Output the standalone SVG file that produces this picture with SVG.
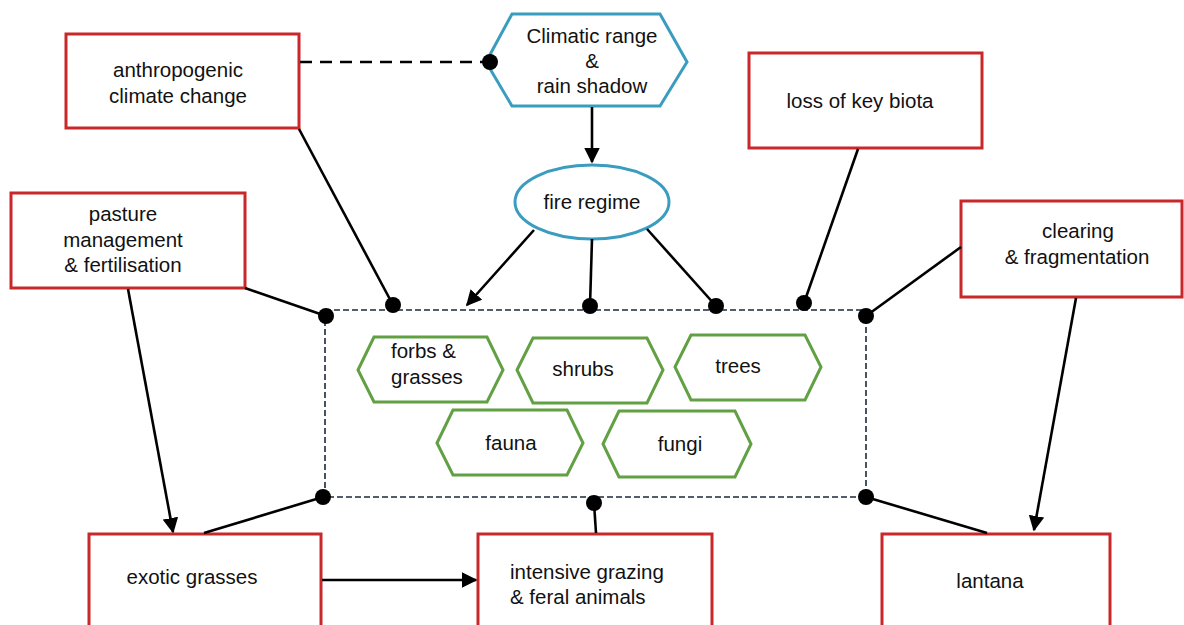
<svg xmlns="http://www.w3.org/2000/svg" width="1184" height="625" viewBox="0 0 1184 625">
<defs>
<style>
.red{fill:#fff;stroke:#c8282a;stroke-width:3}
.blue{fill:#fff;stroke:#3a9dc0;stroke-width:3}
.green{fill:#fff;stroke:#62a044;stroke-width:3}
.t{font-family:"Liberation Sans",Arial,sans-serif;font-size:20.5px;fill:#111;text-anchor:middle}
.s{text-anchor:start}
.c{stroke:#000;stroke-width:2.6;fill:none}
.dot{fill:#000}
</style>
<marker id="arr" viewBox="0 0 10 10" refX="9" refY="5" markerWidth="6" markerHeight="6" markerUnits="strokeWidth" orient="auto">
<path d="M0,0 L10,5 L0,10 z" fill="#000"/>
</marker>
</defs>
<rect width="1184" height="625" fill="#fff"/>

<g id="container">
<rect x="325" y="310" width="541" height="187" fill="none" stroke="#1a2a3a" stroke-width="1.6" stroke-dasharray="6,3"/>
</g>

<g id="anthropogenic">
<rect class="red" x="66" y="34" width="233" height="94"/>
<text class="t" x="178" y="77">anthropogenic</text>
<text class="t" x="178" y="103">climate change</text>
</g>

<g id="climatic">
<polygon class="blue" points="486,62 512,14 660,14 687,62 660,106 512,106"/>
<text class="t" x="592" y="43">Climatic range</text>
<text class="t" x="592" y="68">&amp;</text>
<text class="t" x="592" y="93">rain shadow</text>
</g>

<g id="fire">
<ellipse class="blue" cx="592" cy="202" rx="77" ry="37"/>
<text class="t" x="592" y="209">fire regime</text>
</g>

<g id="loss">
<rect class="red" x="749" y="53" width="233" height="95"/>
<text class="t" x="860" y="108">loss of key biota</text>
</g>

<g id="pasture">
<rect class="red" x="11" y="193" width="234" height="95"/>
<text class="t" x="123" y="221">pasture</text>
<text class="t" x="123" y="247">management</text>
<text class="t" x="123" y="272">&amp; fertilisation</text>
</g>

<g id="clearing">
<rect class="red" x="961" y="201" width="221" height="96"/>
<text class="t" x="1078" y="238">clearing</text>
<text class="t" x="1077" y="264">&amp; fragmentation</text>
</g>

<g id="forbs">
<polygon class="green" points="358,370 374,337 487,337 503,370 487,402 374,402"/>
<text class="t s" x="391" y="358">forbs &amp;</text>
<text class="t s" x="391" y="384">grasses</text>
</g>

<g id="shrubs">
<polygon class="green" points="517,370 533,338 647,338 663,370 647,403 533,403"/>
<text class="t" x="583" y="376">shrubs</text>
</g>

<g id="trees">
<polygon class="green" points="675,367 691,335 805,335 821,367 805,400 691,400"/>
<text class="t" x="738" y="373">trees</text>
</g>

<g id="fauna">
<polygon class="green" points="437,443 453,410 567,410 583,443 567,475 453,475"/>
<text class="t" x="511" y="450">fauna</text>
</g>

<g id="fungi">
<polygon class="green" points="603,444 619,411 735,411 751,444 735,477 619,477"/>
<text class="t" x="680" y="451">fungi</text>
</g>

<g id="exotic">
<rect class="red" x="89" y="534" width="232" height="100"/>
<text class="t" x="192" y="584">exotic grasses</text>
</g>

<g id="grazing">
<rect class="red" x="478" y="534" width="234" height="100"/>
<text class="t s" x="510" y="579">intensive grazing</text>
<text class="t s" x="510" y="604">&amp; feral animals</text>
</g>

<g id="lantana">
<rect class="red" x="882" y="534" width="228" height="100"/>
<text class="t" x="990" y="588">lantana</text>
</g>

<g id="connectors">
<line class="c" x1="300" y1="62" x2="488" y2="62" stroke-dasharray="12,8"/>
<line class="c" x1="592" y1="107" x2="592" y2="162" marker-end="url(#arr)"/>
<line class="c" x1="299" y1="129" x2="393" y2="305"/>
<line class="c" x1="245" y1="288" x2="326" y2="316"/>
<line class="c" x1="534" y1="230" x2="467" y2="305" marker-end="url(#arr)"/>
<line class="c" x1="592" y1="239" x2="590" y2="306"/>
<line class="c" x1="647" y1="229" x2="716" y2="306"/>
<line class="c" x1="858" y1="149" x2="804" y2="303"/>
<line class="c" x1="961" y1="247" x2="866" y2="316"/>
<line class="c" x1="128" y1="289" x2="173" y2="532" marker-end="url(#arr)"/>
<line class="c" x1="1076" y1="298" x2="1034" y2="530" marker-end="url(#arr)"/>
<line class="c" x1="204" y1="533" x2="323" y2="497"/>
<line class="c" x1="594" y1="503" x2="596" y2="533"/>
<line class="c" x1="866" y1="497" x2="987" y2="533"/>
<line class="c" x1="322" y1="580" x2="476" y2="580" marker-end="url(#arr)"/>
<circle class="dot" cx="490" cy="62" r="8"/>
<circle class="dot" cx="393" cy="305" r="8"/>
<circle class="dot" cx="590" cy="306" r="8"/>
<circle class="dot" cx="716" cy="306" r="8"/>
<circle class="dot" cx="804" cy="303" r="8"/>
<circle class="dot" cx="326" cy="316" r="8"/>
<circle class="dot" cx="866" cy="316" r="8"/>
<circle class="dot" cx="323" cy="497" r="8"/>
<circle class="dot" cx="866" cy="497" r="8"/>
<circle class="dot" cx="594" cy="503" r="8"/>
</g>
</svg>
